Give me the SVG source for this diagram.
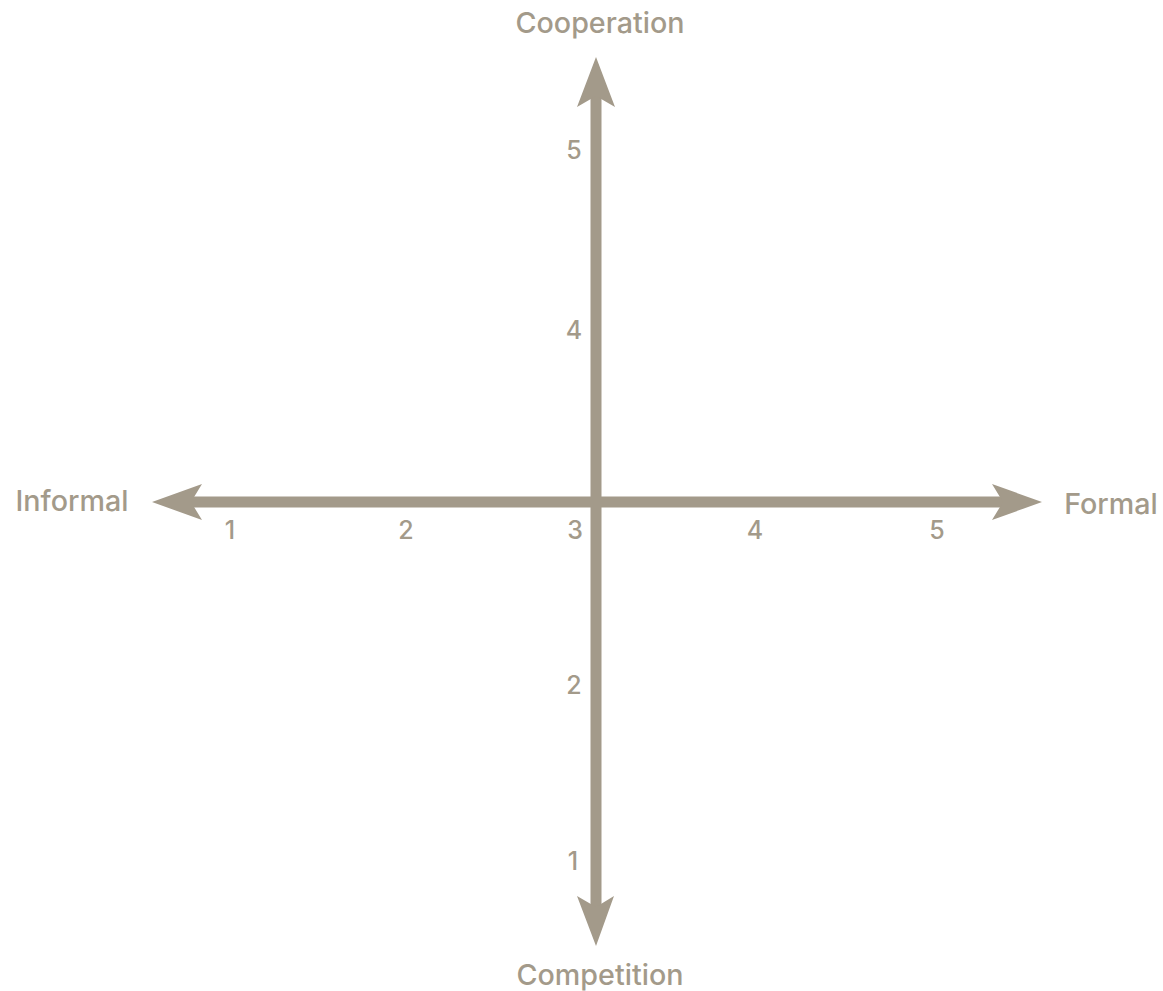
<svg xmlns="http://www.w3.org/2000/svg" width="1163" height="991" viewBox="0 0 1163 991">
<style>
.ax{stroke:#a39a8a;stroke-width:11;fill:none}
.hd{fill:#a39a8a}
text{font-family:Inter,"Liberation Sans",Arial,sans-serif;font-weight:500;fill:#a39a8a}
.lb{font-size:28.7px}
.n{font-size:25px;text-anchor:middle}
</style>
<rect width="1163" height="991" fill="#ffffff"/>
<g id="connectors">
<line class="ax" x1="596" y1="92" x2="596" y2="908"/>
<line class="ax" x1="188" y1="502" x2="1006" y2="502"/>
<path class="hd" d="M596,57 L615,107 L596,96 L577,107 Z"/>
<path class="hd" d="M596,946 L614,896 L596,907 L577,896 Z"/>
<path class="hd" d="M152,502 L202,484 L191,502 L202,520 Z"/>
<path class="hd" d="M1042,502 L992,484 L1003,502 L992,520 Z"/>
</g>
<g id="label-cooperation"><text class="lb" x="600" y="33" text-anchor="middle">Cooperation</text></g>
<g id="label-competition"><text class="lb" x="600" y="985" text-anchor="middle">Competition</text></g>
<g id="label-informal"><text class="lb" x="72" y="511" text-anchor="middle">Informal</text></g>
<g id="label-formal"><text class="lb" x="1111" y="514" text-anchor="middle">Formal</text></g>
<g id="ticks-x">
<text class="n" x="230" y="539">1</text>
<text class="n" x="406" y="539">2</text>
<text class="n" x="575" y="539">3</text>
<text class="n" x="755" y="539">4</text>
<text class="n" x="937" y="539">5</text>
</g>
<g id="ticks-y">
<text class="n" x="574" y="159">5</text>
<text class="n" x="574" y="339">4</text>
<text class="n" x="574" y="694">2</text>
<text class="n" x="573" y="870">1</text>
</g>
</svg>
